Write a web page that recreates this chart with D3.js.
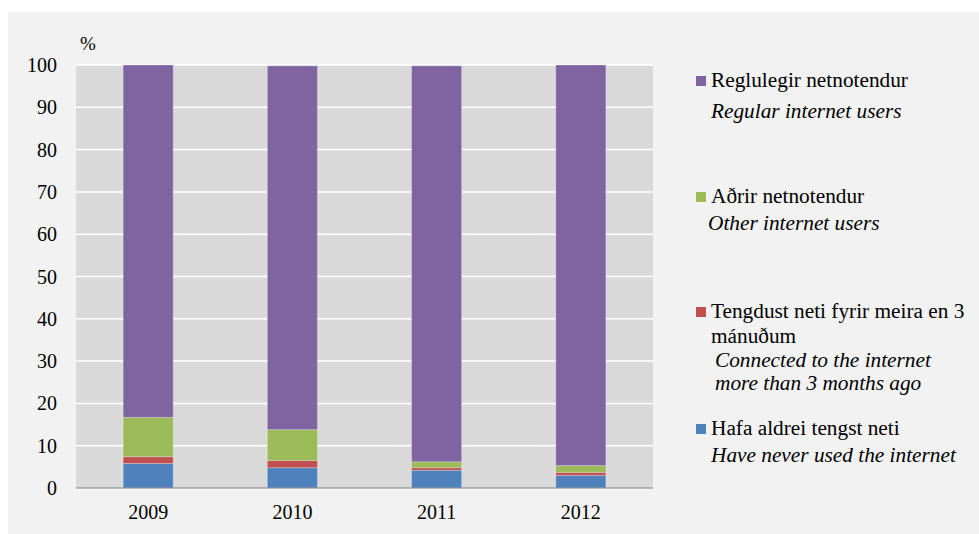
<!DOCTYPE html>
<html>
<head>
<meta charset="utf-8">
<script src="https://cdn.jsdelivr.net/npm/d3@7"></script>
<style>
  body { margin: 0; background: #fff; }
</style>
</head>
<body>
<svg id="chart" width="979" height="534"></svg>
<script>
const years = ["2009", "2010", "2011", "2012"];
// stacked from the bottom up
const neverUsed = [5.8, 4.8, 4.2, 3.0];
const moreThan3Months = [1.6, 1.7, 0.6, 0.7];
const otherUsers = [9.3, 7.3, 1.4, 1.6];
const regularUsers = [83.3, 86.0, 93.6, 94.7];
const yTicks = [0, 10, 20, 30, 40, 50, 60, 70, 80, 90, 100];

const FONT = "'Liberation Serif', 'Times New Roman', 'DejaVu Serif', serif";

const series = [
    {key: "never", color: "#4f81bd", values: neverUsed},
    {key: "old", color: "#c0504d", values: moreThan3Months},
    {key: "other", color: "#9bbb59", values: otherUsers},
    {key: "regular", color: "#8064a2", values: regularUsers}
];

const legendItems = [
    {color: "#8064a2", lines: [["Reglulegir netnotendur", 711, 87, false], ["Regular internet users", 711, 118, true]], boxY: 76},
    {color: "#9bbb59", lines: [["Aðrir netnotendur", 711, 203, false], ["Other internet users", 708, 230, true]], boxY: 192},
    {color: "#c0504d", lines: [["Tengdust neti fyrir meira en 3", 711, 318, false], ["mánuðum", 711, 343, false],
        ["Connected to the internet", 715, 367, true], ["more than 3 months ago", 715, 390, true]], boxY: 307},
    {color: "#4f81bd", lines: [["Hafa aldrei tengst neti", 711, 435, false], ["Have never used the internet", 711, 462, true]], boxY: 424}
];

const svg = d3.select("#chart").style("font-family", FONT);

// outer panel
svg.append("rect").attr("x", 8).attr("y", 12).attr("width", 971).attr("height", 522).attr("fill", "#f2f2f2");

const plot = {left: 76, right: 653, top: 65, bottom: 488};

const x = d3.scaleBand().domain(years).range([plot.left, plot.right]).paddingInner(0.653).paddingOuter(0.327);
const y = d3.scaleLinear().domain([0, 100]).range([plot.bottom, plot.top]);

svg.append("rect")
    .attr("x", plot.left).attr("y", plot.top)
    .attr("width", plot.right - plot.left).attr("height", plot.bottom - plot.top)
    .attr("fill", "#d9d9d9");

// gridlines
svg.append("g").selectAll("line")
    .data(yTicks.filter(d => d > 0))
    .enter().append("line")
    .attr("x1", plot.left).attr("x2", plot.right)
    .attr("y1", d => y(d)).attr("y2", d => y(d))
    .attr("stroke", "#fff").attr("stroke-width", 1.5);

// stacked bars
const table = years.map((yr, i) => {
    const row = {year: yr};
    series.forEach(s => row[s.key] = s.values[i]);
    return row;
});
const stacked = d3.stack().keys(series.map(s => s.key))(table);

svg.append("g").selectAll("g")
    .data(stacked)
    .enter().append("g")
    .attr("fill", (d, i) => series[i].color)
    .selectAll("rect")
    .data(d => d)
    .enter().append("rect")
    .attr("x", d => x(d.data.year))
    .attr("width", x.bandwidth())
    .attr("y", d => y(d[1]))
    .attr("height", d => y(d[0]) - y(d[1]))
    .attr("stroke", "rgba(255,255,255,0.25)")
    .attr("stroke-width", 1);

// x axis line
svg.append("line")
    .attr("x1", plot.left).attr("x2", plot.right)
    .attr("y1", plot.bottom).attr("y2", plot.bottom)
    .attr("stroke", "#868686").attr("stroke-width", 1.2);

// y tick labels
svg.append("g").selectAll("text")
    .data(yTicks)
    .enter().append("text")
    .attr("x", 57).attr("y", d => y(d))
    .attr("dy", "0.35em")
    .attr("text-anchor", "end")
    .style("font-family", FONT)
    .attr("font-size", 20)
    .attr("fill", "#000")
    .text(d => d);

// x tick labels
svg.append("g").selectAll("text")
    .data(years)
    .enter().append("text")
    .attr("x", d => x(d) + x.bandwidth() / 2)
    .attr("y", 519)
    .attr("text-anchor", "middle")
    .style("font-family", FONT)
    .attr("font-size", 20)
    .text(d => d);

svg.append("text").attr("x", 80).attr("y", 50)
    .style("font-family", FONT).attr("font-size", 19).text("%");

// legend
const leg = svg.append("g").selectAll("g").data(legendItems).enter().append("g");
leg.append("rect")
    .attr("x", 696).attr("y", d => d.boxY)
    .attr("width", 10).attr("height", 10)
    .attr("fill", d => d.color);
leg.selectAll("text")
    .data(d => d.lines)
    .enter().append("text")
    .attr("x", d => d[1]).attr("y", d => d[2])
    .style("font-family", FONT)
    .attr("font-size", 21.3)
    .attr("font-style", d => d[3] ? "italic" : "normal")
    .text(d => d[0]);
</script>
</body>
</html>
